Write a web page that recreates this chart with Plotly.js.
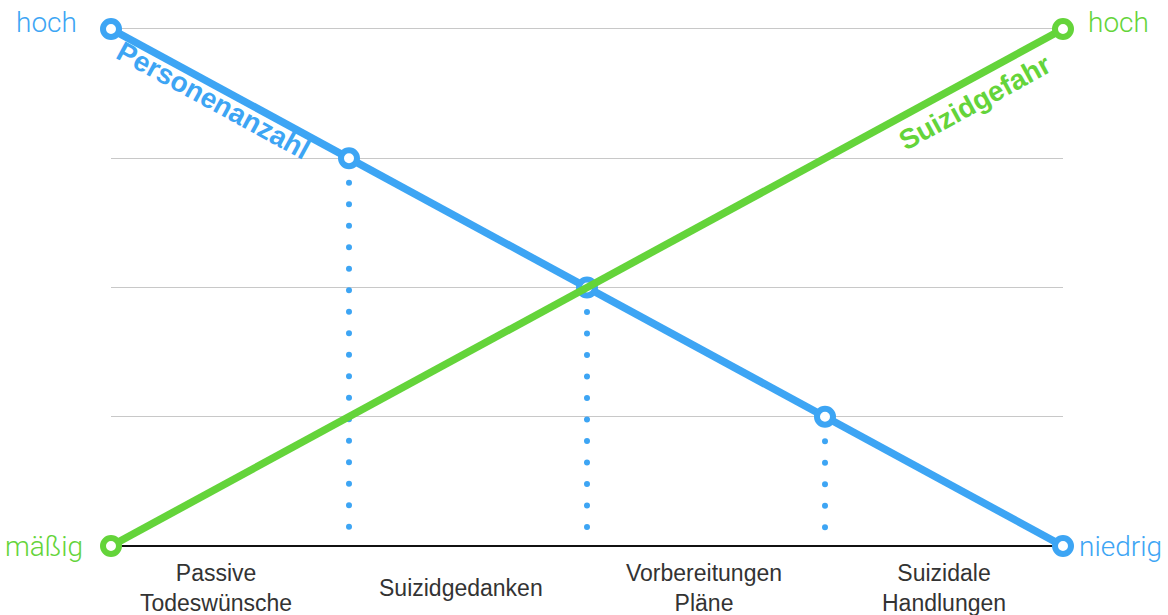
<!DOCTYPE html>
<html>
<head>
<meta charset="utf-8">
<script src="https://cdn.plot.ly/plotly-3.0.1.min.js"></script>
<style>
  html, body { margin: 0; padding: 0; background: #fff; }
  #chart { width: 1168px; height: 615px; }
</style>
</head>
<body>
<div id="chart"></div>
<script>
// ---- data ----
const points = [0, 1, 2, 3, 4];
const personen = [4, 3, 2, 1, 0];          // Personenanzahl (hoch -> niedrig)
const gefahr = [0, 1, 2, 3, 4];            // Suizidgefahr (mäßig -> hoch)
const stages = ["Passive<br>Todeswünsche", "Suizidgedanken", "Vorbereitungen<br>Pläne", "Suizidale<br>Handlungen"];
const stagePos = [0.44, 1.47, 2.49, 3.5];
const dotPoints = [1, 2, 3];               // stages with dotted drop lines
const greenMarkerPoints = [0, 4];          // green markers only at the ends
const gridLevels = [1, 2, 3, 4];
const levelLabels = { blueTop: "hoch", blueBottom: "niedrig", greenTop: "hoch", greenBottom: "mäßig" };
const seriesNames = ["Personenanzahl", "Suizidgefahr"];

const BLUE = '#3DA5F4';
const GREEN = '#64D43A';

const traces = [];

// dotted drop lines from blue markers
dotPoints.forEach(function (p) {
  const yTop = personen[p];
  traces.push({
    x: [p, p], y: [yTop - 0.19, 0.12],
    mode: 'lines', type: 'scatter', hoverinfo: 'skip', showlegend: false,
    line: { color: BLUE, width: 6, dash: '0px,21.5px' },
    cliponaxis: false
  });
});

// blue line
traces.push({
  x: points, y: personen, type: 'scatter', mode: 'lines+markers',
  name: seriesNames[0], showlegend: false, cliponaxis: false,
  line: { color: BLUE, width: 7.5 },
  marker: { symbol: 'circle', size: 16, color: '#ffffff', line: { color: BLUE, width: 6 } }
});

// green line
traces.push({
  x: points, y: gefahr, type: 'scatter', mode: 'lines',
  name: seriesNames[1], showlegend: false, cliponaxis: false,
  line: { color: GREEN, width: 7.5 }
});
// green end markers
traces.push({
  x: greenMarkerPoints.map(function (i) { return points[i]; }),
  y: greenMarkerPoints.map(function (i) { return gefahr[i]; }),
  type: 'scatter', mode: 'markers', showlegend: false, cliponaxis: false, hoverinfo: 'skip',
  marker: { symbol: 'circle', size: 16, color: '#ffffff', line: { color: GREEN, width: 6 } }
});

const last = points.length - 1;
const labelFont = function (c) { return { family: 'Roboto, Liberation Sans, sans-serif', size: 28, color: c, weight: 300 }; };

const annotations = [
  { x: points[0], y: personen[0], text: levelLabels.blueTop, xanchor: 'right', yanchor: 'middle', xshift: -32, yshift: 6, showarrow: false, font: labelFont(BLUE) },
  { x: points[0], y: gefahr[0], text: levelLabels.greenBottom, xanchor: 'right', yanchor: 'middle', xshift: -26, yshift: 0, showarrow: false, font: labelFont(GREEN) },
  { x: points[last], y: gefahr[last], text: levelLabels.greenTop, xanchor: 'left', yanchor: 'middle', xshift: 23, yshift: 6, showarrow: false, font: labelFont(GREEN) },
  { x: points[last], y: personen[last], text: levelLabels.blueBottom, xanchor: 'left', yanchor: 'middle', xshift: 14, yshift: 0, showarrow: false, font: labelFont(BLUE) },
  { x: 0.43, y: personen[0] - 0.43, text: seriesNames[0], textangle: 28.6, showarrow: false, xanchor: 'center', yanchor: 'middle',
    yshift: -16, font: { family: 'Liberation Sans, Arial, sans-serif', size: 28, color: BLUE, weight: 700 } },
  { x: 3.63, y: gefahr[0] + 3.63, text: seriesNames[1], textangle: -28.6, showarrow: false, xanchor: 'center', yanchor: 'middle',
    yshift: -26, font: { family: 'Liberation Sans, Arial, sans-serif', size: 28, color: GREEN, weight: 700 } }
];

stages.forEach(function (s, i) {
  annotations.push({
    x: stagePos[i], y: 0, yref: 'y', text: s, showarrow: false, xanchor: 'center', yanchor: 'middle', yshift: -42,
    align: 'center',
    font: { family: 'Liberation Sans, Arial, sans-serif', size: 23, color: '#333333' }
  });
});

const layout = {
  width: 1168, height: 615,
  margin: { l: 111, r: 105, t: 22, b: 69, pad: 0 },
  paper_bgcolor: '#ffffff', plot_bgcolor: '#ffffff',
  showlegend: false,
  xaxis: { range: [0, 4], showgrid: false, zeroline: false, showticklabels: false, ticks: '',
           showline: false, fixedrange: true },
  yaxis: { range: [0, 4.054], showgrid: true, gridcolor: '#c8c8c8', gridwidth: 1, tickvals: gridLevels,
           zeroline: true, zerolinecolor: '#111111', zerolinewidth: 1.5,
           showticklabels: false, ticks: '', showline: false, fixedrange: true },
  annotations: annotations
};

Plotly.newPlot('chart', traces, layout, { displayModeBar: false, staticPlot: true }).then(function () {
  const gd = document.getElementById('chart');
  const groups = gd.querySelectorAll('.scatterlayer .trace');
  for (let i = 0; i < dotPoints.length; i++) {
    groups[i].querySelectorAll('path.js-line').forEach(function (p) { p.style.strokeLinecap = 'round'; });
  }
});
</script>
</body>
</html>
